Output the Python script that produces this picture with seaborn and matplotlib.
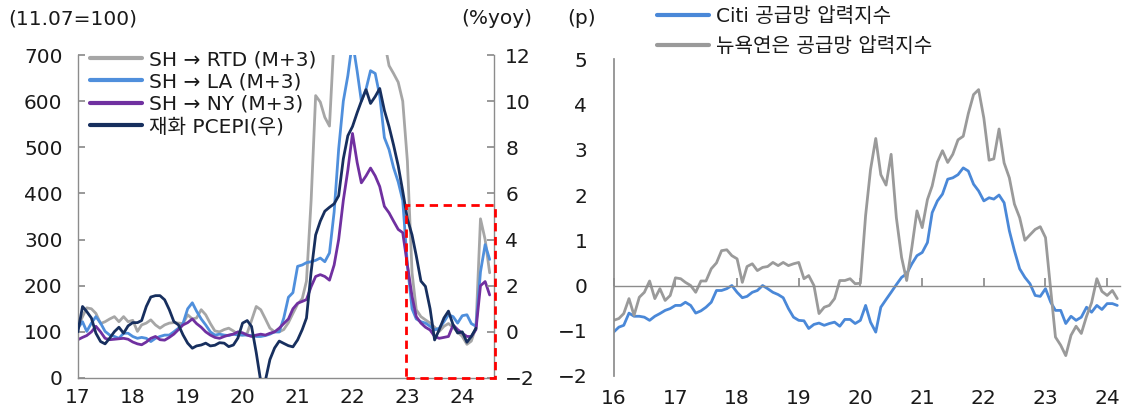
import numpy as np
import pandas as pd
import matplotlib
matplotlib.use("Agg")
import matplotlib.pyplot as plt
import matplotlib.dates as mdates
from matplotlib.patches import Rectangle
from matplotlib.lines import Line2D
import seaborn as sns

# ---------------- data ----------------
# Container freight indices (2011.07 = 100), led 3 months, monthly readings from 2017-01
ship_dates = pd.date_range("2017-01-01", periods=91, freq="MS")
sh_rtd = [110, 133, 152, 150, 140, 118, 122, 128, 133, 122, 133, 122,
          125, 101, 115, 119, 126, 115, 108, 115, 119, 120, 119, 118,
          137, 128, 130, 148, 137, 118, 102, 100, 105, 108, 102, 95,
          93, 97, 125, 155, 148, 128, 108, 100, 100, 105, 120, 140,
          160, 172, 210, 385, 612, 598, 565, 546, 740, 1000, 1200, 1350,
          1500, 1550, 1500, 1400, 1300, 1150, 950, 730, 677, 660, 641, 600,
          470, 228, 148, 133, 126, 119, 110, 101, 112, 118, 110, 100,
          90, 73, 80, 110, 345, 300, 228]
sh_la = [108, 122, 101, 119, 133, 119, 101, 93, 90, 86, 97, 97,
         90, 86, 88, 86, 79, 86, 90, 93, 93, 100, 108, 118,
         150, 163, 145, 128, 115, 100, 93, 95, 93, 92, 95, 93,
         93, 93, 92, 90, 90, 92, 95, 100, 100, 130, 175, 185,
         242, 245, 250, 252, 255, 260, 252, 271, 360, 496, 600, 655,
         730, 665, 600, 626, 666, 660, 612, 521, 495, 456, 425, 385,
         245, 150, 128, 122, 119, 112, 104, 108, 122, 137, 133, 119,
         135, 137, 118, 112, 230, 289, 257]
sh_ny = [83, 88, 92, 100, 112, 100, 86, 83, 84, 85, 86, 84,
         78, 74, 72, 78, 86, 90, 83, 82, 88, 95, 105, 115,
         120, 128, 118, 110, 100, 93, 88, 86, 90, 93, 95, 100,
         98, 93, 90, 93, 95, 93, 97, 100, 108, 118, 128, 150,
         162, 166, 170, 198, 220, 224, 220, 212, 245, 300, 385, 450,
         530, 467, 423, 438, 455, 438, 415, 372, 358, 340, 322, 315,
         245, 177, 133, 119, 110, 104, 90, 86, 88, 90, 115, 105,
         97, 90, 90, 105, 200, 209, 180]

# Goods PCE price index, % y/y (right axis)
pce_dates = pd.date_range("2017-01-01", periods=88, freq="MS")
goods_pce = [0.0, 1.1, 0.88, 0.6, -0.06, -0.42, -0.52, -0.27, 0.01, 0.2, -0.06, 0.26,
             0.4, 0.4, 0.49, 1.1, 1.51, 1.57, 1.57, 1.39, 0.96, 0.45, 0.3, -0.13,
             -0.49, -0.71, -0.61, -0.57, -0.49, -0.61, -0.58, -0.47, -0.49, -0.64, -0.57, -0.27,
             0.38, 0.49, 0.23, -0.9, -2.15, -2.1, -1.2, -0.7, -0.4, -0.5, -0.6, -0.65,
             -0.35, 0.1, 0.6, 2.6, 4.2, 4.8, 5.23, 5.4, 5.55, 5.9, 7.5, 8.5,
             8.9, 9.5, 10.0, 10.5, 9.9, 10.2, 10.55, 9.6, 8.9, 8.1, 7.2, 6.1,
             4.9, 4.2, 3.3, 2.2, 1.97, 1.0, -0.35, 0.1, 0.6, 0.9, 0.3, -0.05,
             0.0, -0.45, -0.2, 0.16]

# Supply chain pressure indices, monthly from 2016-01
scp_dates = pd.date_range("2016-01-01", periods=99, freq="MS")
citi_scpi = [-1.03, -0.92, -0.88, -0.61, -0.68, -0.68, -0.70, -0.77, -0.68, -0.62, -0.55, -0.51,
             -0.44, -0.44, -0.37, -0.44, -0.61, -0.56, -0.48, -0.37, -0.11, -0.11, -0.07, 0.0,
             -0.15, -0.27, -0.24, -0.15, -0.11, 0.0, -0.07, -0.15, -0.20, -0.27, -0.51, -0.70,
             -0.77, -0.78, -0.95, -0.86, -0.83, -0.88, -0.84, -0.81, -0.90, -0.75, -0.75, -0.84,
             -0.77, -0.44, -0.81, -1.03, -0.48, -0.31, -0.15, 0.02, 0.18, 0.26, 0.48, 0.66,
             0.73, 0.95, 1.61, 1.87, 2.02, 2.35, 2.38, 2.45, 2.60, 2.53, 2.24, 2.09,
             1.87, 1.94, 1.91, 2.00, 1.83, 1.21, 0.77, 0.37, 0.18, 0.04, -0.22, -0.24,
             -0.07, -0.37, -0.55, -0.55, -0.84, -0.68, -0.77, -0.70, -0.48, -0.59, -0.44, -0.53,
             -0.40, -0.40, -0.44]
nyfed_gscpi = [-0.77, -0.73, -0.62, -0.29, -0.66, -0.26, -0.15, 0.10, -0.29, -0.07, -0.33, -0.22,
               0.17, 0.15, 0.07, 0.0, -0.15, 0.10, 0.10, 0.37, 0.50, 0.77, 0.79, 0.66,
               0.59, 0.07, 0.42, 0.48, 0.33, 0.40, 0.42, 0.51, 0.44, 0.51, 0.44, 0.48,
               0.51, 0.15, 0.22, 0.0, -0.62, -0.48, -0.44, -0.29, 0.11, 0.11, 0.15, 0.04,
               0.05, 1.55, 2.56, 3.25, 2.45, 2.22, 2.90, 1.50, 0.62, 0.11, 0.85, 1.65,
               1.28, 1.90, 2.20, 2.73, 2.98, 2.72, 2.90, 3.22, 3.30, 3.80, 4.22, 4.33,
               3.70, 2.77, 2.80, 3.46, 2.71, 2.38, 1.80, 1.50, 1.00, 1.12, 1.24, 1.30,
               1.06, -0.10, -1.14, -1.32, -1.55, -1.10, -0.90, -1.06, -0.68, -0.38, 0.15, -0.13,
               -0.22, -0.11, -0.29]

ship_labels = ["SH \u2192 RTD (M+3)", "SH \u2192 LA (M+3)", "SH \u2192 NY (M+3)"]
pce_label = "재화 PCEPI(우)"
scp_labels = ["Citi 공급망 압력지수", "뉴욕연은 공급망 압력지수"]

# ---------------- style ----------------
sns.set_theme(style="white")
plt.rcParams["font.family"] = ["DejaVu Sans", "Noto Sans CJK KR"]
plt.rcParams["axes.unicode_minus"] = True

FS = 14.5
TXT = "#1a1a1a"
SPINE = "#8c8c8c"
C_RTD = "#a6a6a6"
C_LA = "#4f8fdc"
C_NY = "#7030a0"
C_PCE = "#172f5e"
C_CITI = "#4a88d8"
C_NYF = "#9a9a9a"
LW = 2.0

fig = plt.figure(figsize=(11.22, 4.09), dpi=100)

# ---------------- left panel ----------------
ax = fig.add_axes([0.0694, 0.0758, 0.3709, 0.7897])
ship_df = pd.DataFrame({"date": ship_dates, "rtd": sh_rtd, "la": sh_la, "ny": sh_ny})
sns.lineplot(data=ship_df, x="date", y="rtd", ax=ax, color=C_RTD, linewidth=LW)
sns.lineplot(data=ship_df, x="date", y="la", ax=ax, color=C_LA, linewidth=LW)
sns.lineplot(data=ship_df, x="date", y="ny", ax=ax, color=C_NY, linewidth=LW)
ax.set_ylim(0, 700)
ax.set_yticks(range(0, 701, 100))
ax.set_xlim(pd.Timestamp("2017-01-01"), pd.Timestamp("2024-07-30"))
ax.set_xticks([pd.Timestamp(f"{y}-01-01") for y in range(2017, 2025)])
ax.xaxis.set_major_formatter(mdates.DateFormatter("%y"))
ax.set_xlabel("")
ax.set_ylabel("")

ax2 = ax.twinx()
pce_df = pd.DataFrame({"date": pce_dates, "pce": goods_pce})
sns.lineplot(data=pce_df, x="date", y="pce", ax=ax2, color=C_PCE, linewidth=LW)
ax2.set_ylim(-2, 12)
ax2.set_yticks(range(-2, 13, 2))
ax2.set_ylabel("")

for a in (ax, ax2):
    a.spines["top"].set_visible(False)
    for s in ("left", "right", "bottom"):
        a.spines[s].set_color(SPINE)
        a.spines[s].set_linewidth(1.0)
ax.spines["right"].set_visible(False)
ax2.spines["left"].set_visible(False)
ax2.spines["bottom"].set_visible(False)

ax.tick_params(axis="y", direction="in", length=5, color=SPINE, labelsize=FS,
               labelcolor=TXT, pad=11)
ax.tick_params(axis="x", direction="in", length=5, color=SPINE, labelsize=FS,
               labelcolor=TXT, pad=7)
ax2.tick_params(axis="y", direction="in", length=5, color=SPINE, labelsize=FS,
                labelcolor=TXT, pad=8)

# highlighted recent window
x0 = mdates.date2num(pd.Timestamp("2022-12-20"))
x1 = mdates.date2num(pd.Timestamp("2024-08-07"))
ax2.add_patch(Rectangle((x0, -2), x1 - x0, 7.5, fill=False, edgecolor="#ff0000",
                        linestyle=(0, (3, 2)), linewidth=2.0, clip_on=False, zorder=5))

handles = [Line2D([], [], color=c, linewidth=3) for c in (C_RTD, C_LA, C_NY, C_PCE)]
ax2.legend(handles, ship_labels + [pce_label], loc="upper left",
           bbox_to_anchor=(90 / 1122, 1 - 50 / 409), bbox_transform=fig.transFigure,
           frameon=False, fontsize=FS, handlelength=2.6, handletextpad=0.35,
           labelspacing=0.17, borderpad=0, borderaxespad=0, labelcolor=TXT)

fig.text(8 / 1122, 1 - 19 / 409, "(11.07=100)", fontsize=FS, color=TXT, va="center", ha="left")
fig.text(532 / 1122, 1 - 19 / 409, "(%yoy)", fontsize=FS, color=TXT, va="center", ha="right")

# ---------------- right panel ----------------
bx = fig.add_axes([0.5469, 0.0807, 0.4513, 0.7743])
scp_df = pd.DataFrame({"date": scp_dates, "citi": citi_scpi, "nyfed": nyfed_gscpi})
sns.lineplot(data=scp_df, x="date", y="citi", ax=bx, color=C_CITI, linewidth=LW)
sns.lineplot(data=scp_df, x="date", y="nyfed", ax=bx, color=C_NYF, linewidth=LW)
bx.set_ylim(-2, 5)
bx.set_yticks(range(-2, 6))
bx.set_xlim(pd.Timestamp("2016-01-01"), pd.Timestamp("2024-03-17"))
bx.set_xticks([pd.Timestamp(f"{y}-01-01") for y in range(2016, 2025)])
bx.xaxis.set_major_formatter(mdates.DateFormatter("%y"))
bx.set_xlabel("")
bx.set_ylabel("")

bx.spines["right"].set_visible(False)
bx.spines["bottom"].set_visible(False)
bx.spines["left"].set_color(SPINE)
bx.spines["top"].set_color(SPINE)
bx.spines["top"].set_linewidth(1.0)
bx.spines["top"].set_position(("data", 0))
bx.tick_params(axis="y", direction="in", length=5, color=SPINE, labelsize=FS,
               labelcolor=TXT, pad=19)
bx.tick_params(axis="x", which="both", bottom=False, top=True, labelbottom=True,
               labeltop=False, direction="out", length=6, color=SPINE,
               labelsize=FS, labelcolor=TXT, pad=3.5)

h2 = [Line2D([], [], color=c, linewidth=3) for c in (C_CITI, C_NYF)]
fig.legend(h2, scp_labels, loc="upper left", bbox_to_anchor=(657 / 1122, 1 - 7 / 409),
           frameon=False, fontsize=FS, handlelength=2.6, handletextpad=0.35,
           labelspacing=0.55, borderpad=0, borderaxespad=0, labelcolor=TXT)

fig.text(567 / 1122, 1 - 19 / 409, "(p)", fontsize=FS, color=TXT, va="center", ha="left")

fig.savefig("out.png", dpi=100)
